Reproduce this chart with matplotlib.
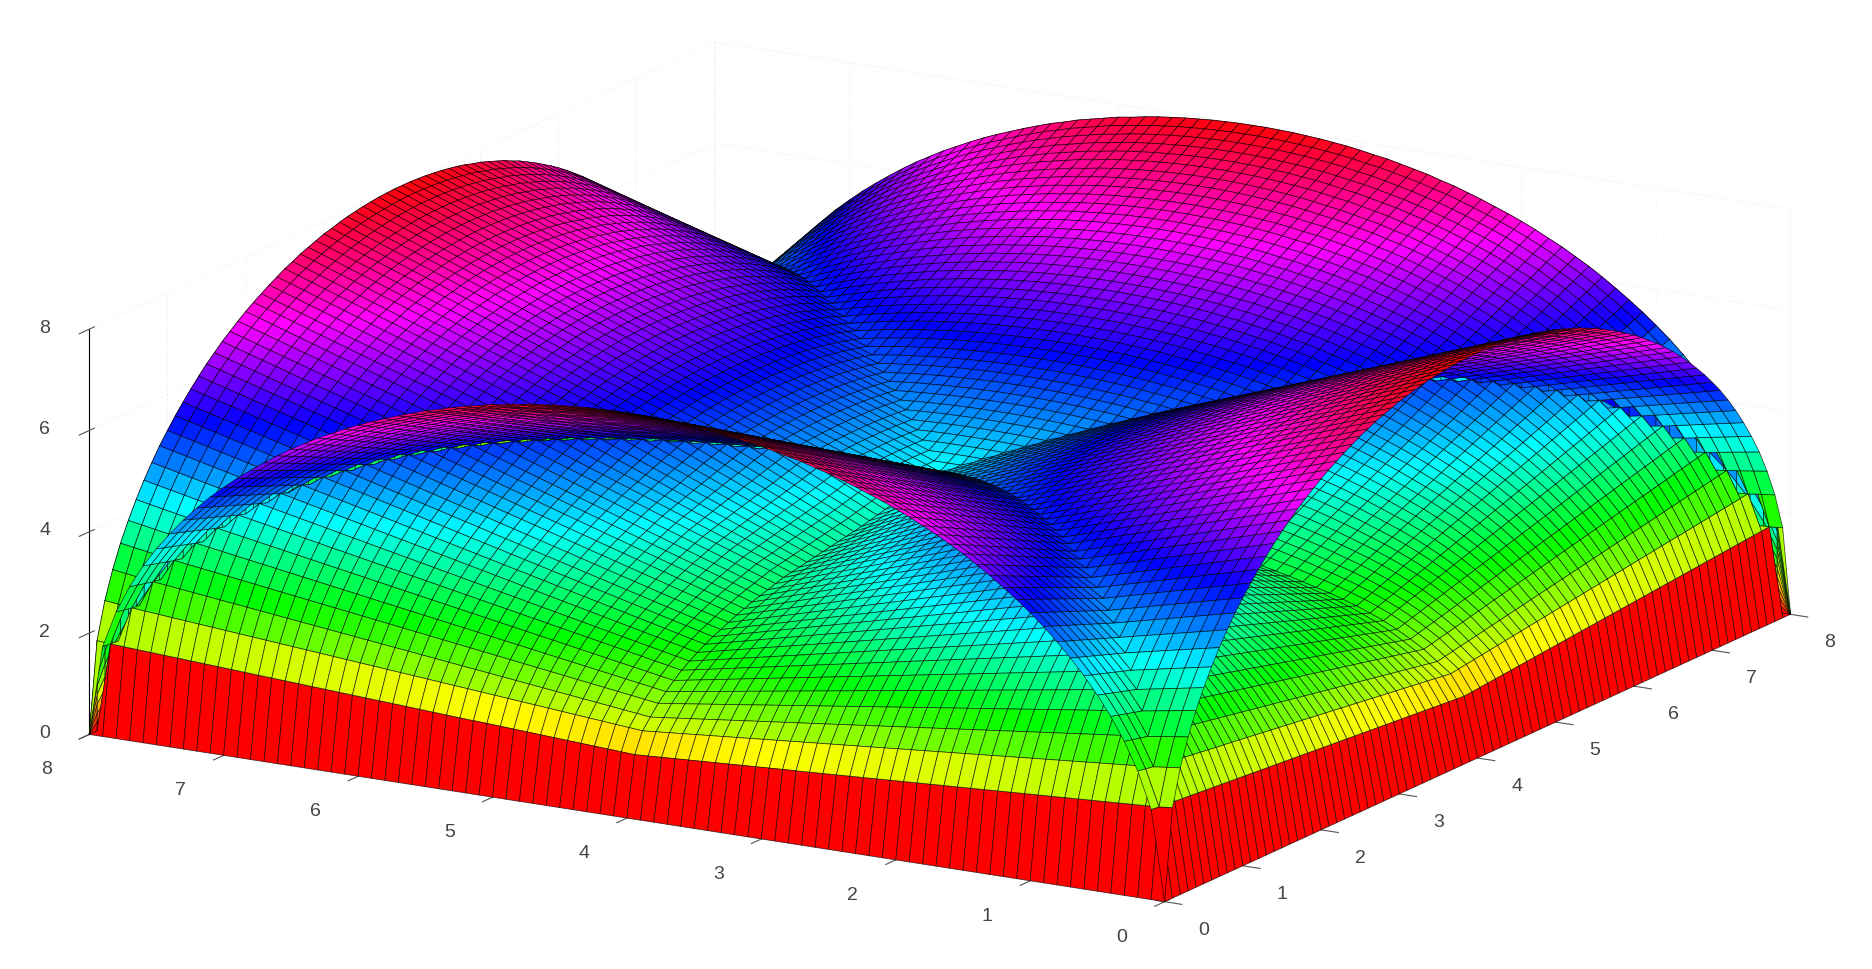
"""Two-sheet vault surface: an upper shell on arches and a floor seen through them."""

import numpy as np
import matplotlib
matplotlib.use("Agg")
import matplotlib.pyplot as plt
from matplotlib.colors import hsv_to_rgb
from mpl_toolkits.mplot3d import proj3d
from mpl_toolkits.mplot3d.art3d import Poly3DCollection

# heights, index = tenths of a unit away from the mid line
rim_arch = [8.00, 8.00, 7.99, 7.98, 7.96, 7.94, 7.91, 7.88, 7.84, 7.79, 7.75,
            7.69, 7.63, 7.57, 7.49, 7.42, 7.33, 7.24, 7.14, 7.04, 6.93,
            6.81, 6.68, 6.55, 6.40, 6.25, 6.08, 5.90, 5.71, 5.51, 5.29,
            5.06, 4.80, 4.52, 4.21, 3.87, 3.49, 3.04, 2.50, 1.78, 0.00]
shell_rise = [4.0, 4.1, 4.2, 4.3, 4.4, 4.5, 4.6, 4.7, 4.8, 4.9, 5.0,
              5.1, 5.2, 5.3, 5.4, 5.5, 5.6, 5.7, 5.8, 5.9, 6.0,
              6.1, 6.2, 6.3, 6.4, 6.5, 6.6, 6.7, 6.8, 6.9, 7.0,
              7.1, 7.2, 7.3, 7.4, 7.5, 7.6, 7.7, 7.8, 7.9, 8.0]
floor_mid = [4.00, 3.98, 3.95, 3.91, 3.87, 3.83, 3.79, 3.75, 3.71, 3.67, 3.63,
             3.60, 3.57, 3.54, 3.51, 3.48, 3.45, 3.42, 3.39, 3.36, 3.33,
             3.28, 3.23, 3.18, 3.13, 3.07, 3.01, 2.94, 2.87, 2.80, 2.72,
             2.63, 2.53, 2.42, 2.29, 2.14, 1.98, 1.78, 1.58, 1.18, 0.00]
wall_levels = [0.0, 0.1, 0.2, 0.3, 0.4, 0.5, 0.6, 0.7, 0.8, 0.9, 1.0]
x_ticks = [0, 1, 2, 3, 4, 5, 6, 7, 8]
y_ticks = [0, 1, 2, 3, 4, 5, 6, 7, 8]
z_ticks = [0, 2, 4, 6, 8]

Z_MAX = 8.0
SCALE = 1872 / 1568


def build_sheets():
    xs = np.arange(81) / 10.0
    ix, iy = np.meshgrid(np.arange(81), np.arange(81), indexing="ij")
    far = np.maximum(np.abs(ix - 40), np.abs(iy - 40))
    near = np.minimum(np.abs(ix - 40), np.abs(iy - 40))
    rim = np.array(rim_arch)
    rise = np.array(shell_rise)
    mid = np.array(floor_mid)

    shell = rise[far] * rim[near] / 8.0
    ridge = rise[far] * rim[far] / 8.0
    ratio = np.divide(near, far, out=np.zeros_like(near, dtype=float), where=far > 0)
    floor = mid[far] + (ridge - mid[far]) * ratio
    floor[far == 40] = 0.0
    return xs, shell, floor


def hue_colors(z):
    hue = np.clip(z / Z_MAX, 0, 0.999)
    hsv = np.dstack([hue, np.ones_like(hue), np.ones_like(hue)])
    return hsv_to_rgb(hsv).reshape(-1, 3)


def sheet_polys(xs, z):
    X, Y = np.meshgrid(xs, xs, indexing="ij")
    pts = np.dstack([X, Y, z])
    return np.stack([pts[:-1, :-1], pts[1:, :-1], pts[1:, 1:], pts[:-1, 1:]], axis=2).reshape(-1, 4, 3)


def back_walls(xs):
    # the back openings under the rim are closed, nothing shows through them
    rim = np.array(rim_arch)[np.abs(np.arange(81) - 40)]
    polys, heights = [], []
    lev = np.array(wall_levels)
    for i in range(80):
        for k in range(len(lev) - 1):
            z00, z10 = rim[i] * lev[k], rim[i + 1] * lev[k]
            z01, z11 = rim[i] * lev[k + 1], rim[i + 1] * lev[k + 1]
            polys.append([(8, xs[i], z00), (8, xs[i + 1], z10), (8, xs[i + 1], z11), (8, xs[i], z01)])
            polys.append([(xs[i], 8, z00), (xs[i + 1], 8, z10), (xs[i + 1], 8, z11), (xs[i], 8, z01)])
            # tinted a little higher up the scale so it blends with the rows in front
            heights += [z00 + 3 * lev[k], z00 + 3 * lev[k]]
    return np.array(polys), np.array(heights)


def fit_axes(fig, ax):
    # line the box corners up with where they sit in the reference
    targets = {(0, 0, 0): (975, 755), (0, 8, 0): (75, 615), (8, 0, 0): (1500, 515)}
    for _ in range(3):
        ax.apply_aspect()
        M = ax.get_proj()
        got = []
        want = []
        for c, t in targets.items():
            px, py, _z = proj3d.proj_transform(*c, M)
            got.append(ax.transData.transform((px, py)))
            want.append((t[0] * SCALE, 969 - t[1] * SCALE))
        got = np.array(got)
        want = np.array(want)
        ratio = np.ptp(want[:, 0]) / np.ptp(got[:, 0])
        pos = ax.get_position()
        w = pos.width * ratio
        h = pos.height * ratio
        cx = pos.x0 + pos.width / 2
        cy = pos.y0 + pos.height / 2
        ax.set_position([cx - w / 2, cy - h / 2, w, h])
        ax.apply_aspect()
        got2 = []
        for c in targets:
            px, py, _z = proj3d.proj_transform(*c, M)
            got2.append(ax.transData.transform((px, py)))
        shift = (want - np.array(got2)).mean(axis=0)
        pos = ax.get_position()
        ax.set_position([pos.x0 + shift[0] / 1872, pos.y0 + shift[1] / 969, pos.width, pos.height])


def add_tick_text(fig, ax):
    # plain figure text placed through the 3D projection, just off the box edges
    ax.apply_aspect()
    M = ax.get_proj()
    style = dict(fontsize=14, family="Liberation Sans", color="#444444", ha="center", va="center")

    def put(x, y, z, label):
        px, py, _z = proj3d.proj_transform(x, y, z, M)
        dx, dy = ax.transData.transform((px, py))
        fig.text(dx / 1872, dy / 969, label, **style)

    for t in x_ticks:
        put(t, -0.29, -0.44, str(t))
    for t in y_ticks:
        put(-0.55, t, -0.31, str(t))
    for t in z_ticks:
        put(0, 8.33, t - 0.12, str(t))


def main():
    xs, shell, floor = build_sheets()

    fig = plt.figure(figsize=(18.72, 9.69), dpi=100)
    ax = fig.add_axes([0.1, 0.1, 0.8, 0.8], projection="3d", proj_type="ortho")
    ax.view_init(elev=15.5, azim=-149.8)
    ax.set_box_aspect((1, 1, 0.338))
    ax.set_xlim(0, 8)
    ax.set_ylim(0, 8)
    ax.set_zlim(0, 8)
    ax.set_xticks(x_ticks)
    ax.set_yticks(y_ticks)
    ax.set_zticks(z_ticks)
    ax.tick_params(color="#555555", width=0.7, labelsize=1)
    ax.xaxis.set_major_formatter(plt.NullFormatter())
    ax.yaxis.set_major_formatter(plt.NullFormatter())
    ax.zaxis.set_major_formatter(plt.NullFormatter())

    wall_polys, wall_heights = back_walls(xs)
    polys = np.concatenate([wall_polys, sheet_polys(xs, shell), sheet_polys(xs, floor)])
    colors = np.concatenate([hue_colors(wall_heights[None, :]),
                             hue_colors(shell[:-1, :-1]),
                             hue_colors(floor[:-1, :-1])])
    coll = Poly3DCollection(polys, facecolors=colors, edgecolors=(0, 0, 0, 0.7),
                            linewidths=0.55, zsort="average")
    ax.add_collection3d(coll)

    for axis in (ax.xaxis, ax.yaxis, ax.zaxis):
        axis.pane.set_visible(False)
        axis._axinfo["grid"].update(color="#eeeeee", linewidth=0.8, linestyle=":")
    ax.xaxis.line.set_color((1, 1, 1, 0))
    ax.yaxis.line.set_color((1, 1, 1, 0))
    ax.zaxis.line.set_color("black")

    fit_axes(fig, ax)
    add_tick_text(fig, ax)
    fig.savefig("out.png", dpi=100)
    plt.close(fig)


if __name__ == "__main__":
    main()
